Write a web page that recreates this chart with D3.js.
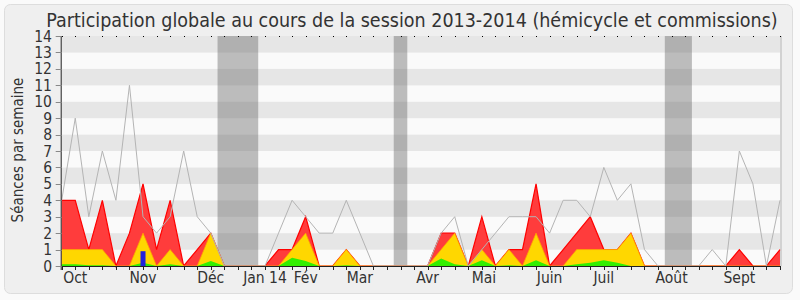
<!DOCTYPE html>
<html>
<head>
<meta charset="utf-8">
<script src="https://cdn.jsdelivr.net/npm/d3@7"></script>
<style>
  body { margin: 0; background: #fafafa; }
  text { font-family: "DejaVu Sans Condensed", "DejaVu Sans", sans-serif; fill: #333; }
</style>
</head>
<body>
<div id="chart"></div>
<script>
const width = 800
const height = 300
const margin = { top: 36, right: 20, bottom: 34, left: 61.7 }

// one value per week, from the first week of October 2013 to the end of September 2014
const median = [4, 9, 3, 7, 4, 11, 3, 2, 3, 7, 3, 2, 0, 0, 0, 0, 2, 4, 3, 2, 2, 4, 2, 0, 0, 0, 0, 0,
  2, 3, 0, 1, 2, 3, 3, 3, 2, 4, 4, 3, 6, 4, 5, 1, 0, 0, 0, 0, 1, 0, 7, 5, 0, 4]
const commission = [4, 4, 1, 4, 0, 2, 5, 1, 4, 0, 1, 2, 0, 0, 0, 0, 1, 1, 3, 0, 0, 1, 0, 0, 0, 0, 0, 0,
  2, 2, 0, 3, 0, 1, 1, 5, 0, 1, 2, 3, 1, 1, 2, 0, 0, 0, 0, 0, 0, 0, 1, 0, 0, 1]
const hemicycle = [1, 1, 1, 1, 0, 0, 2, 0, 1, 0, 0, 2, 0, 0, 0, 0, 0, 1, 2, 0, 0, 1, 0, 0, 0, 0, 0, 0,
  1, 2, 0, 1, 0, 1, 0, 2, 0, 0, 1, 1, 1, 1, 2, 0, 0, 0, 0, 0, 0, 0, 0, 0, 0, 0]
const interventions = [0.1, 0.1, 0.05, 0.05, 0, 0, 0.2, 0, 0.1, 0, 0, 0.3, 0, 0, 0, 0, 0, 0.5, 0.3, 0, 0, 0.05, 0, 0, 0, 0, 0, 0,
  0.45, 0.1, 0, 0.35, 0, 0.05, 0, 0.35, 0, 0, 0.1, 0.2, 0.35, 0.2, 0, 0, 0, 0, 0, 0, 0, 0, 0, 0, 0, 0]
const questions = [{ week: 6, value: 0.9 }]
const vacances = [[11.5, 14.5], [24.5, 25.5], [44.5, 46.5]]
const monthLabels = [
  { week: 1, label: "Oct" }, { week: 6, label: "Nov" }, { week: 11, label: "Déc" },
  { week: 15, label: "Jan 14" }, { week: 18, label: "Fév" }, { week: 22, label: "Mar" },
  { week: 27, label: "Avr" }, { week: 31.15, label: "Mai" }, { week: 36, label: "Juin" },
  { week: 40, label: "Juil" }, { week: 45, label: "Août" }, { week: 50, label: "Sept" }
]
const yTicks = d3.range(0, 15)

const svg = d3.select("#chart").append("svg").attr("width", width).attr("height", height)

// frame
svg.append("rect")
  .attr("x", 4.5).attr("y", 4.5).attr("width", 788).attr("height", 289).attr("rx", 6)
  .attr("fill", "#efefef").attr("stroke", "#dddddd")

const x = d3.scaleLinear().domain([0, median.length - 1]).range([margin.left, width - margin.right])
const y = d3.scaleLinear().domain([0, 14]).range([height - margin.bottom, margin.top])

// stripes
svg.append("g").selectAll("rect").data(d3.range(14)).join("rect")
  .attr("x", x(0)).attr("width", x(53) - x(0))
  .attr("y", d => y(d + 1)).attr("height", d => y(d) - y(d + 1))
  .attr("fill", d => d % 2 ? "#e6e6e6" : "#fafafa")

// right shadow
svg.append("line").attr("x1", x(53) + 1).attr("x2", x(53) + 1).attr("y1", y(14)).attr("y2", y(0))
  .attr("stroke", "#c8c8c8").attr("stroke-width", 1.5)

// vacations
svg.append("g").selectAll("rect").data(vacances).join("rect")
  .attr("x", d => x(d[0])).attr("width", d => x(d[1]) - x(d[0]))
  .attr("y", y(14)).attr("height", y(0) - y(14))
  .attr("fill", "rgb(95,95,95)").attr("fill-opacity", 0.4)

// top dotted line
svg.append("g").selectAll("rect").data(d3.range(0, 54)).join("rect")
  .attr("x", d => Math.round(x(d))).attr("y", y(14)).attr("width", 1).attr("height", 1)
  .attr("fill", "#000")

const area = vals => d3.area().x((d, i) => x(i)).y0(y(0)).y1(d => y(d))(vals)
const line = vals => d3.line().x((d, i) => x(i)).y(d => y(d))(vals)

svg.append("path").attr("d", area(commission)).attr("fill", "#ff3c3c")
svg.append("path").attr("d", line(commission)).attr("fill", "none").attr("stroke", "#ff0000").attr("stroke-width", 1.2)
svg.append("path").attr("d", area(hemicycle)).attr("fill", "#ffd700")
svg.append("path").attr("d", line(hemicycle)).attr("fill", "none").attr("stroke", "#ffa500").attr("stroke-width", 0.8)
svg.append("path").attr("d", area(interventions)).attr("fill", "#33ee00")

svg.append("g").selectAll("rect").data(questions).join("rect")
  .attr("x", d => x(d.week) - 2.5).attr("width", 5)
  .attr("y", d => y(d.value)).attr("height", d => y(0) - y(d.value))
  .attr("fill", "#2222dd")

svg.append("path").attr("d", line(median)).attr("fill", "none").attr("stroke", "#b4b4b4").attr("stroke-width", 1)

// axes
const xAxis = svg.append("g")
xAxis.append("line").attr("x1", x(0)).attr("x2", x(53)).attr("y1", y(0) + 0.5).attr("y2", y(0) + 0.5).attr("stroke", "#222")
xAxis.selectAll(".tick").data(d3.range(0, 54)).join("line")
  .attr("x1", d => Math.round(x(d)) + 0.5).attr("x2", d => Math.round(x(d)) + 0.5)
  .attr("y1", y(0)).attr("y2", y(0) + 4).attr("stroke", "#222")
xAxis.selectAll("text").data(monthLabels).join("text")
  .attr("x", d => x(d.week)).attr("y", 283)
  .attr("text-anchor", "middle").attr("font-size", 15.5)
  .text(d => d.label)

const yAxis = svg.append("g")
yAxis.append("line").attr("x1", x(0) - 0.5).attr("x2", x(0) - 0.5).attr("y1", y(14)).attr("y2", y(0) + 4).attr("stroke", "#222")
yAxis.selectAll("line.t").data(yTicks).join("line").attr("class", "t")
  .attr("x1", x(0) - 6).attr("x2", x(0)).attr("y1", d => Math.round(y(d)) + 0.5).attr("y2", d => Math.round(y(d)) + 0.5)
  .attr("stroke", "#888")
yAxis.selectAll("text").data(yTicks).join("text")
  .attr("x", 52).attr("y", d => y(d) + 5.5)
  .attr("text-anchor", "end").attr("font-size", 15.5)
  .text(d => d)

svg.append("text")
  .attr("transform", "translate(23,150) rotate(-90)")
  .attr("text-anchor", "middle").attr("font-size", 15)
  .text("Séances par semaine")

svg.append("text")
  .attr("x", 412).attr("y", 26.5)
  .attr("text-anchor", "middle").attr("font-size", 19.5)
  .text("Participation globale au cours de la session 2013-2014 (hémicycle et commissions)")
</script>
</body>
</html>
